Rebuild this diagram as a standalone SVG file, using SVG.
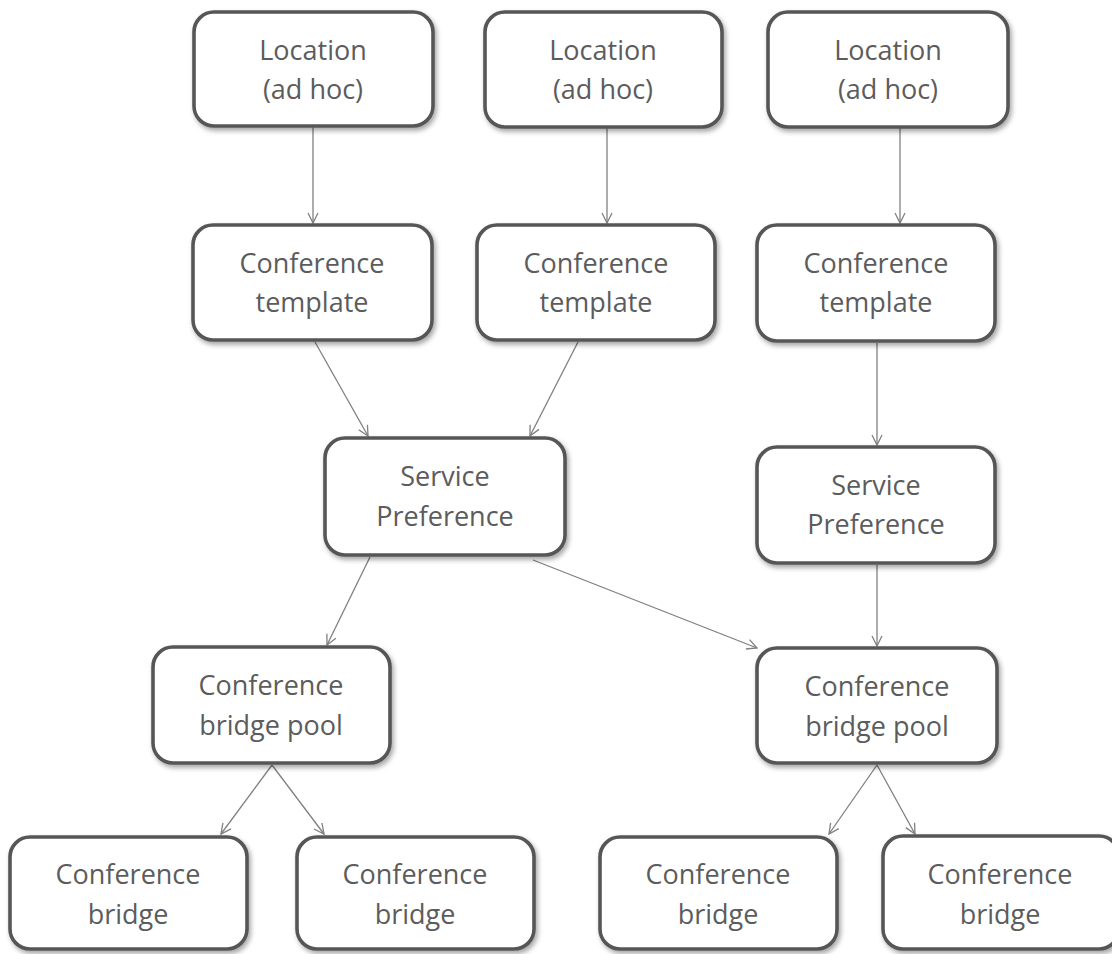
<svg xmlns="http://www.w3.org/2000/svg" width="1112" height="954" viewBox="0 0 1112 954">
<defs>
<filter id="sh" x="-10%" y="-10%" width="125%" height="130%">
<feDropShadow dx="2" dy="3" stdDeviation="2.5" flood-color="#000" flood-opacity="0.35"/>
</filter>
<marker id="ah" viewBox="0 0 12 12" markerWidth="12" markerHeight="12" refX="11" refY="6" orient="auto" markerUnits="userSpaceOnUse">
<path d="M1,1 L11,6 L1,11" fill="none" stroke="#808080" stroke-width="1.3"/>
</marker>
</defs>
<style>
.box{fill:#fff;stroke:#575757;stroke-width:3.6;filter:url(#sh)}
.t{font-family:"Open Sans","Noto Sans",sans-serif;font-size:27px;fill:#5c5c5c;text-anchor:middle}
.c{stroke:#808080;stroke-width:1.3;fill:none;marker-end:url(#ah)}
</style>
<rect width="1112" height="954" fill="#fff"/>
<g id="connectors">
<line class="c" x1="313" y1="127" x2="313" y2="223"/>
<line class="c" x1="607" y1="127" x2="607" y2="223"/>
<line class="c" x1="900" y1="127" x2="900" y2="223"/>
<line class="c" x1="315" y1="342" x2="368" y2="436"/>
<line class="c" x1="578" y1="342" x2="530" y2="436"/>
<line class="c" x1="877" y1="343" x2="877" y2="445"/>
<line class="c" x1="370" y1="557" x2="327" y2="645"/>
<line class="c" x1="533" y1="560" x2="757" y2="648"/>
<line class="c" x1="877" y1="565" x2="877" y2="646"/>
<line class="c" x1="272" y1="765" x2="221" y2="834"/>
<line class="c" x1="272" y1="765" x2="324" y2="834"/>
<line class="c" x1="877" y1="765" x2="829" y2="834"/>
<line class="c" x1="877" y1="765" x2="915" y2="834"/>
</g>
<g id="n1"><rect class="box" x="194" y="12" width="239" height="114" rx="20"/><text class="t" x="313" y="60">Location</text><text class="t" x="313" y="99">(ad hoc)</text></g>
<g id="n2"><rect class="box" x="485" y="12" width="237" height="115" rx="20"/><text class="t" x="603" y="60">Location</text><text class="t" x="603" y="99">(ad hoc)</text></g>
<g id="n3"><rect class="box" x="768" y="12" width="240" height="115" rx="20"/><text class="t" x="888" y="60">Location</text><text class="t" x="888" y="99">(ad hoc)</text></g>
<g id="t1"><rect class="box" x="193" y="225" width="239" height="115" rx="20"/><text class="t" x="312" y="273">Conference</text><text class="t" x="312" y="312">template</text></g>
<g id="t2"><rect class="box" x="477" y="225" width="238" height="115" rx="20"/><text class="t" x="596" y="273">Conference</text><text class="t" x="596" y="312">template</text></g>
<g id="t3"><rect class="box" x="757" y="225" width="238" height="116" rx="20"/><text class="t" x="876" y="273">Conference</text><text class="t" x="876" y="312">template</text></g>
<g id="sp1"><rect class="box" x="325" y="438" width="240" height="117" rx="20"/><text class="t" x="445" y="486">Service</text><text class="t" x="445" y="526">Preference</text></g>
<g id="sp2"><rect class="box" x="757" y="447" width="238" height="116" rx="20"/><text class="t" x="876" y="495">Service</text><text class="t" x="876" y="534">Preference</text></g>
<g id="bp1"><rect class="box" x="153" y="647" width="237" height="116" rx="20"/><text class="t" x="271" y="695">Conference</text><text class="t" x="271" y="735">bridge pool</text></g>
<g id="bp2"><rect class="box" x="757" y="648" width="240" height="115" rx="20"/><text class="t" x="877" y="696">Conference</text><text class="t" x="877" y="736">bridge pool</text></g>
<g id="b1"><rect class="box" x="10" y="837" width="237" height="112" rx="20"/><text class="t" x="128" y="884">Conference</text><text class="t" x="128" y="924">bridge</text></g>
<g id="b2"><rect class="box" x="297" y="837" width="237" height="112" rx="20"/><text class="t" x="415" y="884">Conference</text><text class="t" x="415" y="924">bridge</text></g>
<g id="b3"><rect class="box" x="600" y="837" width="237" height="112" rx="20"/><text class="t" x="718" y="884">Conference</text><text class="t" x="718" y="924">bridge</text></g>
<g id="b4"><rect class="box" x="883" y="836" width="236" height="113" rx="20"/><text class="t" x="1000" y="884">Conference</text><text class="t" x="1000" y="924">bridge</text></g>
</svg>
